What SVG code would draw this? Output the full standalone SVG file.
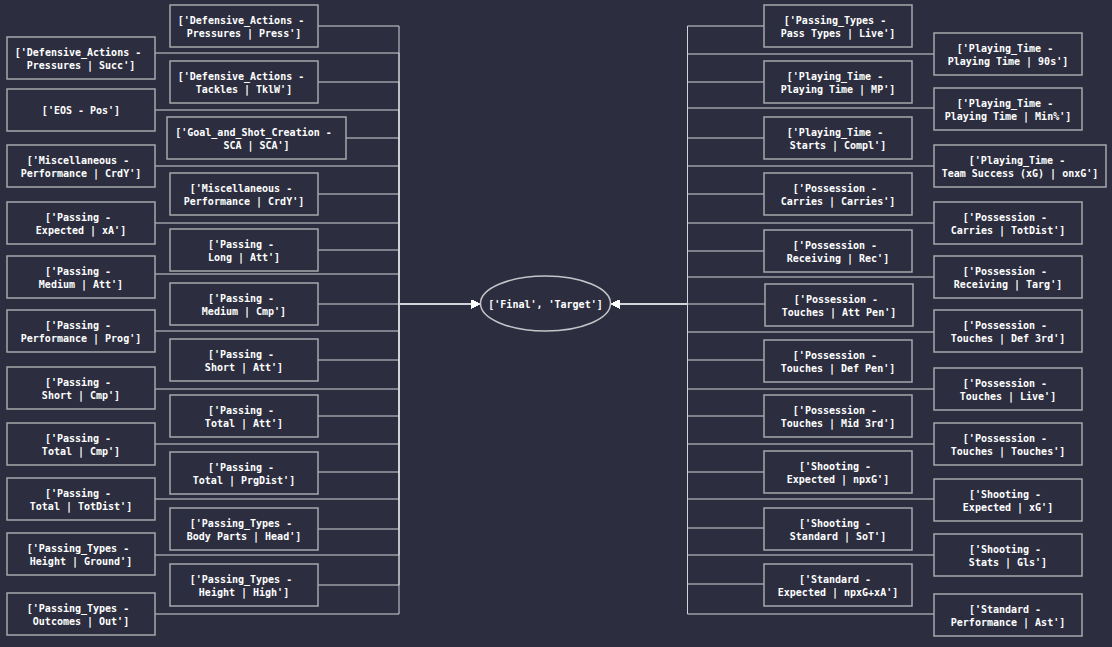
<svg xmlns="http://www.w3.org/2000/svg" width="1112" height="647" viewBox="0 0 1112 647">
<style>
.bg{fill:#2c2e3f}
.n rect{fill:#2c2e3f;stroke:#a6a7ad;stroke-width:1.5}
.n ellipse{fill:#2c2e3f;stroke:#c4c5ca;stroke-width:1.5}
.n text{fill:#ffffff;font-family:"DejaVu Sans Mono","Liberation Mono",monospace;font-weight:bold;font-size:10px;text-anchor:middle}
.e path{fill:none;stroke:#d2d3d8;stroke-width:1}
.arr{fill:#ffffff}
</style>
<defs>
<marker id="ah" markerUnits="userSpaceOnUse" markerWidth="9" markerHeight="9" refX="9" refY="4.5" orient="auto">
<path class="arr" d="M0,0 L9,4.5 L0,9 z"/>
</marker>
</defs>
<rect class="bg" x="0" y="0" width="1112" height="647"/>

<g id="edges" class="e">
<!-- left outer -->
<path d="M155,53 H399 V304 H480" marker-end="url(#ah)"/>
<path d="M155,110 H399 V304 H480" marker-end="url(#ah)"/>
<path d="M155,166 H399 V304 H480" marker-end="url(#ah)"/>
<path d="M155,223 H399 V304 H480" marker-end="url(#ah)"/>
<path d="M155,274 H399 V304 H480" marker-end="url(#ah)"/>
<path d="M155,331 H399 V304 H480" marker-end="url(#ah)"/>
<path d="M155,389 H399 V304 H480" marker-end="url(#ah)"/>
<path d="M155,444 H399 V304 H480" marker-end="url(#ah)"/>
<path d="M155,499 H399 V304 H480" marker-end="url(#ah)"/>
<path d="M155,555 H399 V304 H480" marker-end="url(#ah)"/>
<path d="M155,614 H399 V304 H480" marker-end="url(#ah)"/>
<!-- left inner -->
<path d="M318,26 H399 V304 H480" marker-end="url(#ah)"/>
<path d="M318,82 H399 V304 H480" marker-end="url(#ah)"/>
<path d="M346,138 H399 V304 H480" marker-end="url(#ah)"/>
<path d="M318,194 H399 V304 H480" marker-end="url(#ah)"/>
<path d="M318,250 H399 V304 H480" marker-end="url(#ah)"/>
<path d="M318,304 H480" marker-end="url(#ah)"/>
<path d="M318,360 H399 V304 H480" marker-end="url(#ah)"/>
<path d="M318,416 H399 V304 H480" marker-end="url(#ah)"/>
<path d="M318,472 H399 V304 H480" marker-end="url(#ah)"/>
<path d="M318,529 H399 V304 H480" marker-end="url(#ah)"/>
<path d="M318,585 H399 V304 H480" marker-end="url(#ah)"/>
<!-- right inner -->
<path d="M764,26 H687.5 V304 H611" marker-end="url(#ah)"/>
<path d="M764,82 H687.5 V304 H611" marker-end="url(#ah)"/>
<path d="M764,138 H687.5 V304 H611" marker-end="url(#ah)"/>
<path d="M764,194 H687.5 V304 H611" marker-end="url(#ah)"/>
<path d="M764,251 H687.5 V304 H611" marker-end="url(#ah)"/>
<path d="M765,304 H611" marker-end="url(#ah)"/>
<path d="M764,360 H687.5 V304 H611" marker-end="url(#ah)"/>
<path d="M764,416 H687.5 V304 H611" marker-end="url(#ah)"/>
<path d="M764,472 H687.5 V304 H611" marker-end="url(#ah)"/>
<path d="M764,528 H687.5 V304 H611" marker-end="url(#ah)"/>
<path d="M764,584 H687.5 V304 H611" marker-end="url(#ah)"/>
<!-- right outer -->
<path d="M934,54 H687.5 V304 H611" marker-end="url(#ah)"/>
<path d="M934,108 H687.5 V304 H611" marker-end="url(#ah)"/>
<path d="M934,166 H687.5 V304 H611" marker-end="url(#ah)"/>
<path d="M934,223 H687.5 V304 H611" marker-end="url(#ah)"/>
<path d="M934,277 H687.5 V304 H611" marker-end="url(#ah)"/>
<path d="M934,332 H687.5 V304 H611" marker-end="url(#ah)"/>
<path d="M934,389 H687.5 V304 H611" marker-end="url(#ah)"/>
<path d="M934,444 H687.5 V304 H611" marker-end="url(#ah)"/>
<path d="M934,499 H687.5 V304 H611" marker-end="url(#ah)"/>
<path d="M934,555 H687.5 V304 H611" marker-end="url(#ah)"/>
<path d="M934,614 H687.5 V304 H611" marker-end="url(#ah)"/>
</g>

<g id="target" class="n"><ellipse cx="545.5" cy="303.5" rx="65" ry="27.5"/><text x="545.5" y="307.5">['Final', 'Target']</text></g>

<!-- left outer column -->
<g id="lo1" class="n"><rect x="7" y="37" width="148" height="42"/><text x="78" y="55.5">['Defensive_Actions -</text><text x="81" y="69">Pressures | Succ']</text></g>
<g id="lo2" class="n"><rect x="7" y="89" width="148" height="42"/><text x="81" y="114">['EOS - Pos']</text></g>
<g id="lo3" class="n"><rect x="7" y="145" width="148" height="42"/><text x="78" y="163.5">['Miscellaneous -</text><text x="81" y="177">Performance | CrdY']</text></g>
<g id="lo4" class="n"><rect x="7" y="202" width="148" height="42"/><text x="78" y="220.5">['Passing -</text><text x="81" y="234">Expected | xA']</text></g>
<g id="lo5" class="n"><rect x="7" y="256" width="148" height="42"/><text x="78" y="274.5">['Passing -</text><text x="81" y="288">Medium | Att']</text></g>
<g id="lo6" class="n"><rect x="7" y="310" width="148" height="42"/><text x="78" y="328.5">['Passing -</text><text x="81" y="342">Performance | Prog']</text></g>
<g id="lo7" class="n"><rect x="7" y="367" width="148" height="42"/><text x="78" y="385.5">['Passing -</text><text x="81" y="399">Short | Cmp']</text></g>
<g id="lo8" class="n"><rect x="7" y="423" width="148" height="42"/><text x="78" y="441.5">['Passing -</text><text x="81" y="455">Total | Cmp']</text></g>
<g id="lo9" class="n"><rect x="7" y="478" width="148" height="42"/><text x="78" y="496.5">['Passing -</text><text x="81" y="510">Total | TotDist']</text></g>
<g id="lo10" class="n"><rect x="7" y="533" width="148" height="42"/><text x="78" y="551.5">['Passing_Types -</text><text x="81" y="565">Height | Ground']</text></g>
<g id="lo11" class="n"><rect x="7" y="593" width="148" height="42"/><text x="78" y="611.5">['Passing_Types -</text><text x="81" y="625">Outcomes | Out']</text></g>

<!-- left inner column -->
<g id="li1" class="n"><rect x="170" y="5" width="148" height="42"/><text x="241" y="23.5">['Defensive_Actions -</text><text x="244" y="37">Pressures | Press']</text></g>
<g id="li2" class="n"><rect x="170" y="61" width="148" height="42"/><text x="241" y="79.5">['Defensive_Actions -</text><text x="244" y="93">Tackles | TklW']</text></g>
<g id="li3" class="n"><rect x="167" y="117" width="179" height="42"/><text x="253.5" y="135.5">['Goal_and_Shot_Creation -</text><text x="256.5" y="149">SCA | SCA']</text></g>
<g id="li4" class="n"><rect x="170" y="173" width="148" height="42"/><text x="241" y="191.5">['Miscellaneous -</text><text x="244" y="205">Performance | CrdY']</text></g>
<g id="li5" class="n"><rect x="170" y="229" width="148" height="42"/><text x="241" y="247.5">['Passing -</text><text x="244" y="261">Long | Att']</text></g>
<g id="li6" class="n"><rect x="170" y="283" width="148" height="42"/><text x="241" y="301.5">['Passing -</text><text x="244" y="315">Medium | Cmp']</text></g>
<g id="li7" class="n"><rect x="170" y="339" width="148" height="42"/><text x="241" y="357.5">['Passing -</text><text x="244" y="371">Short | Att']</text></g>
<g id="li8" class="n"><rect x="170" y="395" width="148" height="42"/><text x="241" y="413.5">['Passing -</text><text x="244" y="427">Total | Att']</text></g>
<g id="li9" class="n"><rect x="170" y="452" width="148" height="42"/><text x="241" y="470.5">['Passing -</text><text x="244" y="484">Total | PrgDist']</text></g>
<g id="li10" class="n"><rect x="170" y="508" width="148" height="42"/><text x="241" y="526.5">['Passing_Types -</text><text x="244" y="540">Body Parts | Head']</text></g>
<g id="li11" class="n"><rect x="170" y="564" width="148" height="42"/><text x="241" y="582.5">['Passing_Types -</text><text x="244" y="596">Height | High']</text></g>

<!-- right inner column -->
<g id="ri1" class="n"><rect x="764" y="5" width="148" height="42"/><text x="835" y="23.5">['Passing_Types -</text><text x="838" y="37">Pass Types | Live']</text></g>
<g id="ri2" class="n"><rect x="764" y="61" width="148" height="42"/><text x="835" y="79.5">['Playing_Time -</text><text x="838" y="93">Playing Time | MP']</text></g>
<g id="ri3" class="n"><rect x="764" y="117" width="148" height="42"/><text x="835" y="135.5">['Playing_Time -</text><text x="838" y="149">Starts | Compl']</text></g>
<g id="ri4" class="n"><rect x="764" y="173" width="148" height="42"/><text x="835" y="191.5">['Possession -</text><text x="838" y="205">Carries | Carries']</text></g>
<g id="ri5" class="n"><rect x="764" y="230" width="148" height="42"/><text x="835" y="248.5">['Possession -</text><text x="838" y="262">Receiving | Rec']</text></g>
<g id="ri6" class="n"><rect x="765" y="284" width="148" height="42"/><text x="836" y="302.5">['Possession -</text><text x="839" y="316">Touches | Att Pen']</text></g>
<g id="ri7" class="n"><rect x="764" y="340" width="148" height="42"/><text x="835" y="358.5">['Possession -</text><text x="838" y="372">Touches | Def Pen']</text></g>
<g id="ri8" class="n"><rect x="764" y="395" width="148" height="42"/><text x="835" y="413.5">['Possession -</text><text x="838" y="427">Touches | Mid 3rd']</text></g>
<g id="ri9" class="n"><rect x="764" y="451" width="148" height="42"/><text x="835" y="469.5">['Shooting -</text><text x="838" y="483">Expected | npxG']</text></g>
<g id="ri10" class="n"><rect x="764" y="508" width="148" height="42"/><text x="835" y="526.5">['Shooting -</text><text x="838" y="540">Standard | SoT']</text></g>
<g id="ri11" class="n"><rect x="764" y="564" width="148" height="42"/><text x="835" y="582.5">['Standard -</text><text x="838" y="596">Expected | npxG+xA']</text></g>

<!-- right outer column -->
<g id="ro1" class="n"><rect x="934" y="33" width="148" height="42"/><text x="1005" y="51.5">['Playing_Time -</text><text x="1008" y="65">Playing Time | 90s']</text></g>
<g id="ro2" class="n"><rect x="934" y="88" width="148" height="42"/><text x="1005" y="106.5">['Playing_Time -</text><text x="1008" y="120">Playing Time | Min%']</text></g>
<g id="ro3" class="n"><rect x="934" y="145" width="172" height="42"/><text x="1017" y="163.5">['Playing_Time -</text><text x="1020" y="177">Team Success (xG) | onxG']</text></g>
<g id="ro4" class="n"><rect x="934" y="202" width="148" height="42"/><text x="1005" y="220.5">['Possession -</text><text x="1008" y="234">Carries | TotDist']</text></g>
<g id="ro5" class="n"><rect x="934" y="256" width="148" height="42"/><text x="1005" y="274.5">['Possession -</text><text x="1008" y="288">Receiving | Targ']</text></g>
<g id="ro6" class="n"><rect x="934" y="310" width="148" height="42"/><text x="1005" y="328.5">['Possession -</text><text x="1008" y="342">Touches | Def 3rd']</text></g>
<g id="ro7" class="n"><rect x="934" y="368" width="148" height="42"/><text x="1005" y="386.5">['Possession -</text><text x="1008" y="400">Touches | Live']</text></g>
<g id="ro8" class="n"><rect x="934" y="423" width="148" height="42"/><text x="1005" y="441.5">['Possession -</text><text x="1008" y="455">Touches | Touches']</text></g>
<g id="ro9" class="n"><rect x="934" y="479" width="148" height="42"/><text x="1005" y="497.5">['Shooting -</text><text x="1008" y="511">Expected | xG']</text></g>
<g id="ro10" class="n"><rect x="934" y="534" width="148" height="42"/><text x="1005" y="552.5">['Shooting -</text><text x="1008" y="566">Stats | Gls']</text></g>
<g id="ro11" class="n"><rect x="934" y="594" width="148" height="42"/><text x="1005" y="612.5">['Standard -</text><text x="1008" y="626">Performance | Ast']</text></g>
</svg>
